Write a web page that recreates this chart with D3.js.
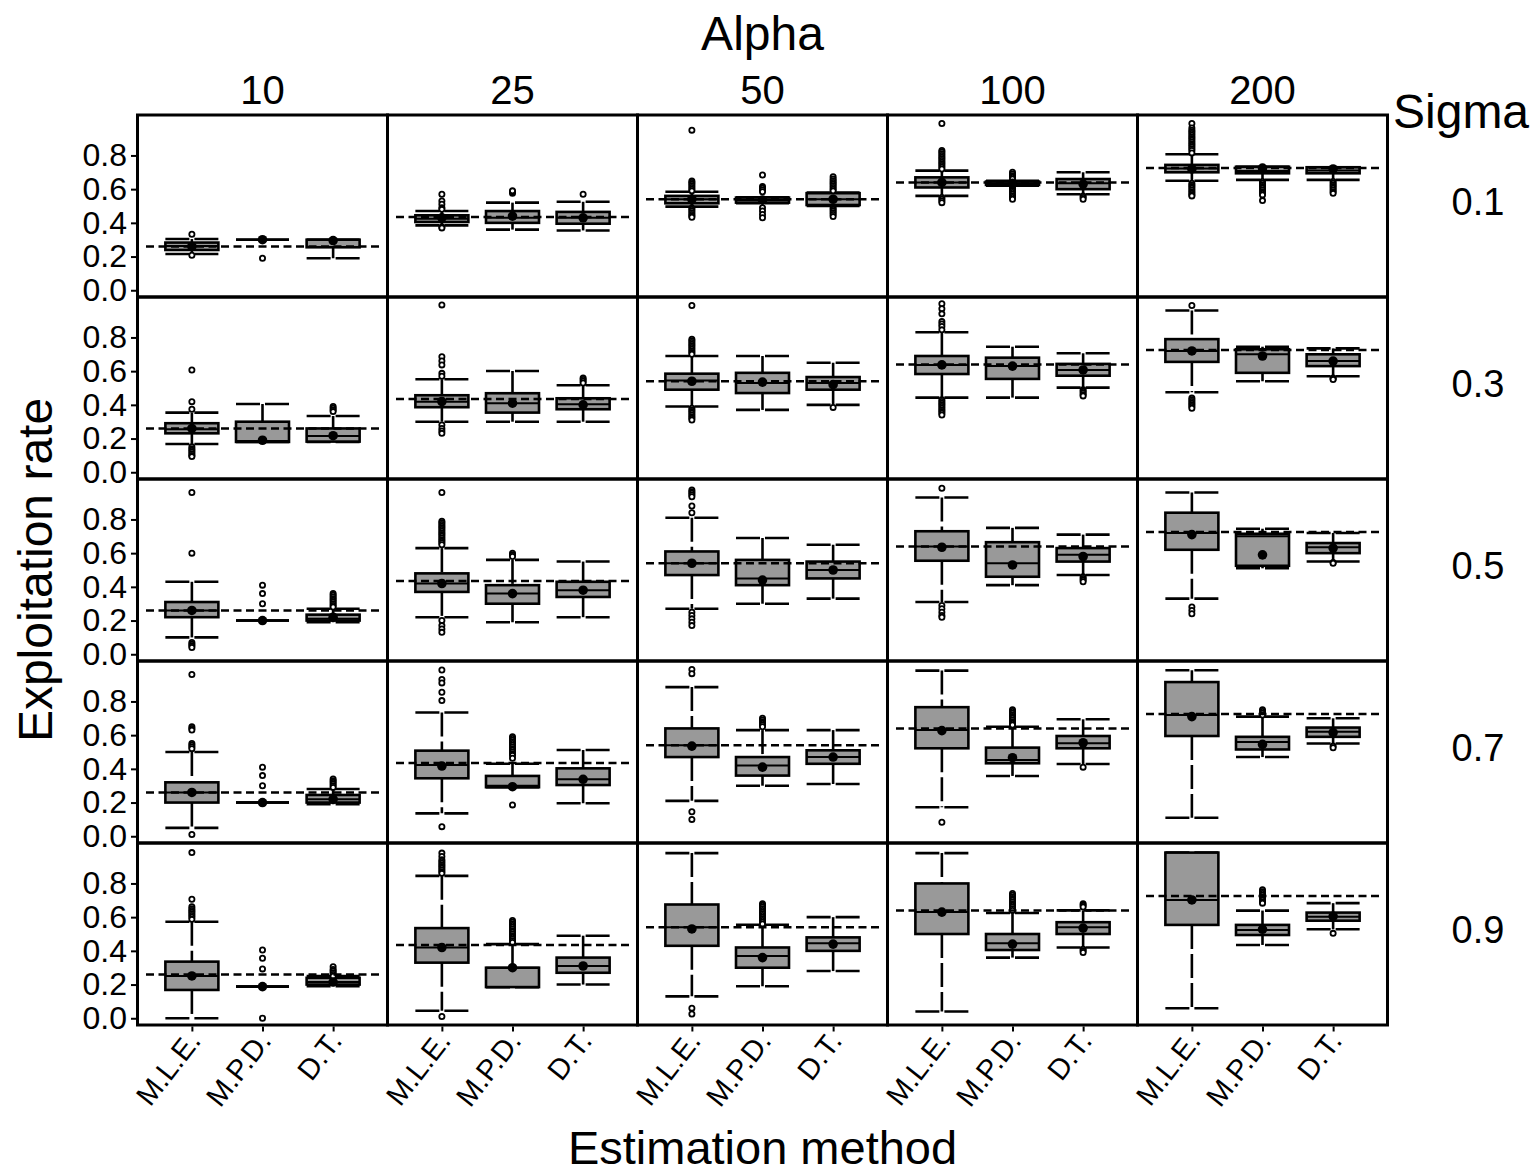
<!DOCTYPE html>
<html>
<head>
<meta charset="utf-8">
<script src="https://cdn.jsdelivr.net/npm/d3@7"></script>
<style>
  body { margin: 0; background: #fff; }
  svg { display: block; font-family: "Liberation Sans", Arial, sans-serif; }
</style>
</head>
<body>
<svg id="chart" width="1536" height="1176"></svg>
<script>
// facets and categories
const alphas = ["10", "25", "50", "100", "200"];
const sigmas = ["0.1", "0.3", "0.5", "0.7", "0.9"];
const methods = ["M.L.E.", "M.P.D.", "D.T."];
const trueRate = [0.26, 0.435, 0.54, 0.64, 0.725];
const yTicks = [0, 0.2, 0.4, 0.6, 0.8];

// box stats per alpha, per method: [lower whisker, q1, median, q3, upper whisker, mean]
const sigma01Boxes = [
  [[0.215, 0.239, 0.262, 0.283, 0.304, 0.26], [0.30, 0.30, 0.30, 0.30, 0.30, 0.30], [0.19, 0.255, 0.30, 0.30, 0.30, 0.295]],
  [[0.385, 0.405, 0.425, 0.445, 0.47, 0.43], [0.36, 0.40, 0.43, 0.47, 0.52, 0.44], [0.355, 0.395, 0.43, 0.465, 0.525, 0.43]],
  [[0.496, 0.516, 0.54, 0.56, 0.585, 0.54], [0.516, 0.52, 0.535, 0.55, 0.552, 0.535], [0.50, 0.506, 0.54, 0.576, 0.58, 0.54]],
  [[0.56, 0.61, 0.64, 0.67, 0.71, 0.64], [0.62, 0.625, 0.635, 0.645, 0.65, 0.635], [0.57, 0.60, 0.635, 0.66, 0.70, 0.63]],
  [[0.65, 0.70, 0.722, 0.744, 0.807, 0.72], [0.655, 0.694, 0.708, 0.733, 0.733, 0.725], [0.655, 0.694, 0.71, 0.73, 0.73, 0.72]]
];
const sigma03Boxes = [
  [[0.168, 0.231, 0.255, 0.291, 0.354, 0.26], [0.18, 0.18, 0.185, 0.30, 0.405, 0.19], [0.18, 0.182, 0.215, 0.26, 0.334, 0.217]],
  [[0.30, 0.386, 0.419, 0.457, 0.552, 0.42], [0.30, 0.354, 0.41, 0.469, 0.601, 0.41], [0.30, 0.374, 0.404, 0.439, 0.516, 0.40]],
  [[0.39, 0.49, 0.545, 0.585, 0.69, 0.54], [0.37, 0.47, 0.53, 0.59, 0.69, 0.535], [0.40, 0.49, 0.53, 0.565, 0.65, 0.52]],
  [[0.443, 0.583, 0.637, 0.69, 0.831, 0.637], [0.443, 0.554, 0.63, 0.68, 0.745, 0.63], [0.502, 0.573, 0.607, 0.643, 0.706, 0.607]],
  [[0.475, 0.655, 0.72, 0.79, 0.96, 0.72], [0.54, 0.59, 0.70, 0.73, 0.745, 0.69], [0.57, 0.63, 0.66, 0.70, 0.735, 0.66]]
];
const sigma05Boxes = [
  [[0.10, 0.22, 0.26, 0.31, 0.43, 0.26], [0.20, 0.20, 0.20, 0.20, 0.20, 0.20], [0.19, 0.20, 0.21, 0.235, 0.27, 0.22]],
  [[0.22, 0.37, 0.42, 0.48, 0.63, 0.42], [0.19, 0.30, 0.36, 0.41, 0.56, 0.36], [0.22, 0.34, 0.38, 0.43, 0.55, 0.38]],
  [[0.27, 0.47, 0.54, 0.61, 0.81, 0.54], [0.30, 0.41, 0.45, 0.56, 0.69, 0.44], [0.33, 0.45, 0.50, 0.55, 0.65, 0.50]],
  [[0.31, 0.555, 0.64, 0.73, 0.93, 0.635], [0.41, 0.46, 0.54, 0.665, 0.75, 0.53], [0.47, 0.55, 0.59, 0.63, 0.71, 0.58]],
  [[0.33, 0.62, 0.72, 0.84, 0.96, 0.71], [0.51, 0.525, 0.70, 0.715, 0.745, 0.59], [0.55, 0.60, 0.635, 0.66, 0.72, 0.63]]
];
const sigma07Boxes = [
  [[0.05, 0.20, 0.26, 0.32, 0.50, 0.26], [0.20, 0.20, 0.20, 0.20, 0.20, 0.20], [0.19, 0.20, 0.22, 0.245, 0.28, 0.22]],
  [[0.136, 0.344, 0.423, 0.508, 0.734, 0.417], [0.291, 0.291, 0.30, 0.358, 0.43, 0.294], [0.196, 0.304, 0.338, 0.403, 0.512, 0.338]],
  [[0.21, 0.47, 0.54, 0.64, 0.885, 0.535], [0.30, 0.36, 0.42, 0.47, 0.63, 0.41], [0.31, 0.43, 0.47, 0.51, 0.63, 0.47]],
  [[0.172, 0.522, 0.631, 0.766, 0.983, 0.627], [0.358, 0.433, 0.453, 0.526, 0.65, 0.466], [0.429, 0.522, 0.552, 0.595, 0.694, 0.555]],
  [[0.11, 0.595, 0.72, 0.915, 0.985, 0.71], [0.47, 0.515, 0.56, 0.59, 0.71, 0.545], [0.55, 0.59, 0.62, 0.645, 0.70, 0.615]]
];
const sigma09Boxes = [
  [[0.0, 0.168, 0.251, 0.336, 0.573, 0.251], [0.188, 0.188, 0.188, 0.188, 0.188, 0.188], [0.19, 0.20, 0.215, 0.24, 0.25, 0.215]],
  [[0.045, 0.33, 0.42, 0.535, 0.845, 0.42], [0.185, 0.185, 0.30, 0.30, 0.44, 0.30], [0.20, 0.27, 0.31, 0.36, 0.49, 0.31]],
  [[0.13, 0.43, 0.54, 0.675, 0.98, 0.53], [0.19, 0.30, 0.37, 0.42, 0.555, 0.36], [0.28, 0.40, 0.445, 0.48, 0.60, 0.44]],
  [[0.04, 0.50, 0.63, 0.80, 0.98, 0.63], [0.36, 0.405, 0.445, 0.50, 0.625, 0.44], [0.42, 0.50, 0.54, 0.57, 0.64, 0.535]],
  [[0.059, 0.554, 0.702, 0.983, 0.983, 0.702], [0.435, 0.494, 0.524, 0.554, 0.639, 0.528], [0.528, 0.579, 0.603, 0.627, 0.683, 0.605]]
];

// outliers per alpha, per method
const sigma01Out = [
  [[0.332, 0.208], [0.19], []],
  [[0.57, 0.53, 0.51, 0.49, 0.48, 0.375, 0.37], [0.575, 0.585, 0.59], [0.57]],
  [[0.95, 0.649, 0.64, 0.63, 0.62, 0.61, 0.60, 0.59, 0.49, 0.48, 0.47, 0.46, 0.45, 0.44, 0.433],
   [0.684, 0.615, 0.605, 0.595, 0.585, 0.49, 0.47, 0.45, 0.43],
   [0.674, 0.66, 0.65, 0.64, 0.63, 0.62, 0.61, 0.60, 0.59, 0.49, 0.48, 0.47, 0.46, 0.45, 0.437]],
  [[0.99, 0.83, 0.82, 0.81, 0.80, 0.79, 0.78, 0.77, 0.76, 0.75, 0.74, 0.73, 0.72, 0.55, 0.54, 0.53, 0.52],
   [0.70, 0.69, 0.68, 0.67, 0.66, 0.61, 0.60, 0.59, 0.58, 0.57, 0.56, 0.55, 0.54],
   [0.56, 0.55, 0.54]],
  [[0.99, 0.963, 0.95, 0.94, 0.93, 0.92, 0.91, 0.90, 0.89, 0.88, 0.87, 0.86, 0.85, 0.84, 0.83, 0.815,
    0.635, 0.625, 0.615, 0.605, 0.595, 0.585, 0.575, 0.565, 0.56],
   [0.645, 0.635, 0.625, 0.615, 0.605, 0.595, 0.585, 0.575, 0.566, 0.532],
   [0.645, 0.635, 0.625, 0.615, 0.605, 0.595, 0.585, 0.575]]
];
const sigma03Out = [
  [[0.607, 0.419, 0.374, 0.152, 0.14, 0.13, 0.12, 0.11, 0.10, 0.093], [], [0.39, 0.38, 0.37, 0.36]],
  [[0.993, 0.686, 0.66, 0.637, 0.587, 0.57, 0.28, 0.26, 0.245, 0.231], [], [0.56, 0.55, 0.54, 0.53]],
  [[0.99, 0.79, 0.78, 0.77, 0.76, 0.75, 0.74, 0.73, 0.72, 0.71, 0.70, 0.38, 0.37, 0.36, 0.35, 0.34, 0.33, 0.32, 0.31], [], [0.385]],
  [[1.0, 0.97, 0.94, 0.894, 0.88, 0.865, 0.845, 0.43, 0.42, 0.41, 0.40, 0.39, 0.38, 0.37, 0.36, 0.35, 0.34], [], [0.49, 0.48, 0.47, 0.46, 0.453]],
  [[0.99, 0.44, 0.43, 0.42, 0.41, 0.40, 0.39, 0.38], [], [0.56, 0.555, 0.55]]
];
const sigma05Out = [
  [[0.96, 0.60, 0.07, 0.06, 0.05, 0.04], [0.41, 0.36, 0.30], [0.36, 0.35, 0.34, 0.33, 0.32, 0.31, 0.30, 0.29, 0.28]],
  [[0.96, 0.79, 0.78, 0.77, 0.76, 0.75, 0.74, 0.73, 0.72, 0.71, 0.70, 0.69, 0.68, 0.67, 0.66, 0.65, 0.20, 0.17, 0.15, 0.13], [0.60, 0.59, 0.58], []],
  [[0.975, 0.965, 0.955, 0.945, 0.935, 0.88, 0.84, 0.25, 0.23, 0.21, 0.19, 0.17], [], []],
  [[0.985, 0.29, 0.27, 0.25, 0.23, 0.22], [], [0.46, 0.45, 0.44, 0.43]],
  [[0.28, 0.26, 0.24], [], [0.545, 0.54]]
];
const sigma07Out = [
  [[0.96, 0.65, 0.64, 0.63, 0.55, 0.54, 0.53, 0.52, 0.01], [0.41, 0.36, 0.30], [0.34, 0.33, 0.32, 0.31, 0.30, 0.29]],
  [[0.987, 0.93, 0.91, 0.855, 0.805, 0.057], [0.59, 0.58, 0.57, 0.56, 0.55, 0.54, 0.53, 0.52, 0.51, 0.50, 0.49, 0.48, 0.463, 0.186], []],
  [[0.99, 0.965, 0.145, 0.10], [0.70, 0.69, 0.68, 0.67, 0.66, 0.65], []],
  [[0.083], [0.75, 0.74, 0.73, 0.72, 0.71, 0.70, 0.69, 0.68, 0.67, 0.66], [0.41]],
  [[], [0.75, 0.74, 0.73, 0.72], [0.535, 0.525]]
];
const sigma09Out = [
  [[0.983, 0.706, 0.662, 0.65, 0.64, 0.63, 0.62, 0.61, 0.60, 0.587], [0.405, 0.356, 0.293, 0.0], [0.306, 0.29, 0.28, 0.27, 0.26, 0.25]],
  [[0.98, 0.96, 0.94, 0.93, 0.92, 0.91, 0.90, 0.89, 0.88, 0.87, 0.86, 0.01], [0.58, 0.57, 0.56, 0.55, 0.54, 0.53, 0.52, 0.51, 0.50, 0.49, 0.48, 0.47, 0.46, 0.45], []],
  [[0.06, 0.025], [0.68, 0.67, 0.66, 0.65, 0.64, 0.63, 0.62, 0.61, 0.60, 0.59, 0.58, 0.57, 0.56], []],
  [[], [0.74, 0.73, 0.72, 0.71, 0.70, 0.69, 0.68, 0.67, 0.66, 0.65, 0.64], [0.68, 0.67, 0.66, 0.41, 0.40, 0.39]],
  [[], [0.762, 0.75, 0.74, 0.73, 0.72, 0.71, 0.70, 0.69, 0.683], [0.504]]
];

const boxRows = [sigma01Boxes, sigma03Boxes, sigma05Boxes, sigma07Boxes, sigma09Boxes];
const outRows = [sigma01Out, sigma03Out, sigma05Out, sigma07Out, sigma09Out];

const svg = d3.select('#chart');
const colScale = d3.scaleBand().domain(alphas).range([137.5, 1387.5]);
const rowScale = d3.scaleBand().domain(sigmas).range([115, 1025]);
const pw = colScale.bandwidth(), ph = rowScale.bandwidth();
const x = d3.scalePoint().domain(methods).range([0, pw]).padding(0.77);
const y = d3.scaleLinear().domain([-0.04, 1.04]).range([ph, 0]);
const boxW = 53;
const lw = 2.6;

sigmas.forEach((s, ri) => {
  alphas.forEach((a, ci) => {
    const g = svg.append('g')
      .attr('transform', `translate(${colScale(a)},${rowScale(s)})`);
    const boxes = methods.map((m, mi) => {
      const [lo, q1, med, q3, hi, mean] = boxRows[ri][ci][mi];
      return { m, lo, q1, med, q3, hi, mean, out: outRows[ri][ci][mi] };
    });

    // whiskers (long dash)
    g.selectAll('line.wup')
      .data(boxes.filter(d => d.hi > d.q3))
      .join('line')
      .attr('class', 'wup')
      .attr('x1', d => x(d.m)).attr('x2', d => x(d.m))
      .attr('y1', d => y(d.hi)).attr('y2', d => y(d.q3))
      .attr('stroke', '#000').attr('stroke-width', lw)
      .attr('stroke-dasharray', '24,5');
    g.selectAll('line.wlo')
      .data(boxes.filter(d => d.lo < d.q1))
      .join('line')
      .attr('class', 'wlo')
      .attr('x1', d => x(d.m)).attr('x2', d => x(d.m))
      .attr('y1', d => y(d.q1)).attr('y2', d => y(d.lo))
      .attr('stroke', '#000').attr('stroke-width', lw)
      .attr('stroke-dasharray', '24,5');

    // caps
    const caps = boxes.flatMap(d => [{ m: d.m, v: d.hi }, { m: d.m, v: d.lo }]);
    g.selectAll('line.cap')
      .data(caps)
      .join('line')
      .attr('class', 'cap')
      .attr('x1', d => x(d.m) - boxW / 2).attr('x2', d => x(d.m) + boxW / 2)
      .attr('y1', d => y(d.v)).attr('y2', d => y(d.v))
      .attr('stroke', '#000').attr('stroke-width', lw)
      .attr('stroke-dasharray', '24,5');

    // boxes
    g.selectAll('rect.box')
      .data(boxes)
      .join('rect')
      .attr('class', 'box')
      .attr('x', d => x(d.m) - boxW / 2)
      .attr('y', d => y(d.q3))
      .attr('width', boxW)
      .attr('height', d => Math.max(0, y(d.q1) - y(d.q3)))
      .attr('fill', '#999999')
      .attr('stroke', '#000').attr('stroke-width', lw);

    g.selectAll('line.med')
      .data(boxes)
      .join('line')
      .attr('class', 'med')
      .attr('x1', d => x(d.m) - boxW / 2).attr('x2', d => x(d.m) + boxW / 2)
      .attr('y1', d => y(d.med)).attr('y2', d => y(d.med))
      .attr('stroke', '#000').attr('stroke-width', 2);

    // outliers
    const outs = boxes.flatMap(d => d.out.map(v => ({ m: d.m, v })));
    g.selectAll('circle.out')
      .data(outs)
      .join('circle')
      .attr('class', 'out')
      .attr('cx', d => x(d.m)).attr('cy', d => y(d.v))
      .attr('r', 2.6)
      .attr('fill', '#fff')
      .attr('stroke', '#000').attr('stroke-width', 1.8);

    // true exploitation rate
    g.append('line')
      .attr('x1', 8.5).attr('x2', pw - 8.5)
      .attr('y1', y(trueRate[ci])).attr('y2', y(trueRate[ci]))
      .attr('stroke', '#000').attr('stroke-width', 2.5)
      .attr('stroke-dasharray', '8,4.5');

    // means
    g.selectAll('circle.mean')
      .data(boxes)
      .join('circle')
      .attr('class', 'mean')
      .attr('cx', d => x(d.m)).attr('cy', d => y(d.mean))
      .attr('r', 4.8)
      .attr('fill', '#000');

    g.append('rect')
      .attr('width', pw).attr('height', ph)
      .attr('fill', 'none')
      .attr('stroke', '#000').attr('stroke-width', 3);
  });

  // y axis on the left column
  const ya = svg.append('g')
    .attr('transform', `translate(${colScale(alphas[0]) - 1.5},${rowScale(s)})`)
    .call(d3.axisLeft(y).tickValues(yTicks).tickSize(5).tickPadding(4).tickFormat(d3.format('.1f')));
  ya.select('.domain').remove();
  ya.selectAll('.tick line').attr('stroke', '#000').attr('stroke-width', 2);
  ya.selectAll('.tick text')
    .attr('font-size', 32).attr('fill', '#000')
    .attr('font-family', '"Liberation Sans", Arial, sans-serif');

  // sigma strip labels
  svg.append('text')
    .attr('x', 1478).attr('y', rowScale(s) + ph / 2 + 9)
    .attr('text-anchor', 'middle')
    .attr('font-size', 38)
    .text(s);
});

// x axis under bottom row
alphas.forEach(a => {
  const xa = svg.append('g')
    .attr('transform', `translate(${colScale(a)},${rowScale(sigmas[4]) + ph + 1.5})`)
    .call(d3.axisBottom(x).tickSize(5));
  xa.select('.domain').remove();
  xa.selectAll('.tick line').attr('stroke', '#000').attr('stroke-width', 2);
  xa.selectAll('.tick text')
    .attr('x', 0).attr('y', 0).attr('dy', 0)
    .attr('text-anchor', 'end')
    .attr('transform', 'translate(9.5,15) rotate(-52)')
    .attr('font-size', 29).attr('fill', '#000')
    .attr('font-family', '"Liberation Sans", Arial, sans-serif');

  // alpha strip labels
  svg.append('text')
    .attr('x', colScale(a) + pw / 2).attr('y', 104)
    .attr('text-anchor', 'middle')
    .attr('font-size', 40)
    .text(a);
});

svg.append('text')
  .attr('x', 762.5).attr('y', 50)
  .attr('text-anchor', 'middle')
  .attr('font-size', 48)
  .text('Alpha');

svg.append('text')
  .attr('x', 1393).attr('y', 128)
  .attr('font-size', 48)
  .text('Sigma');

svg.append('text')
  .attr('transform', 'translate(52,570) rotate(-90)')
  .attr('text-anchor', 'middle')
  .attr('font-size', 48)
  .text('Exploitation rate');

svg.append('text')
  .attr('x', 762.5).attr('y', 1164)
  .attr('text-anchor', 'middle')
  .attr('font-size', 47)
  .text('Estimation method');
</script>
</body>
</html>
